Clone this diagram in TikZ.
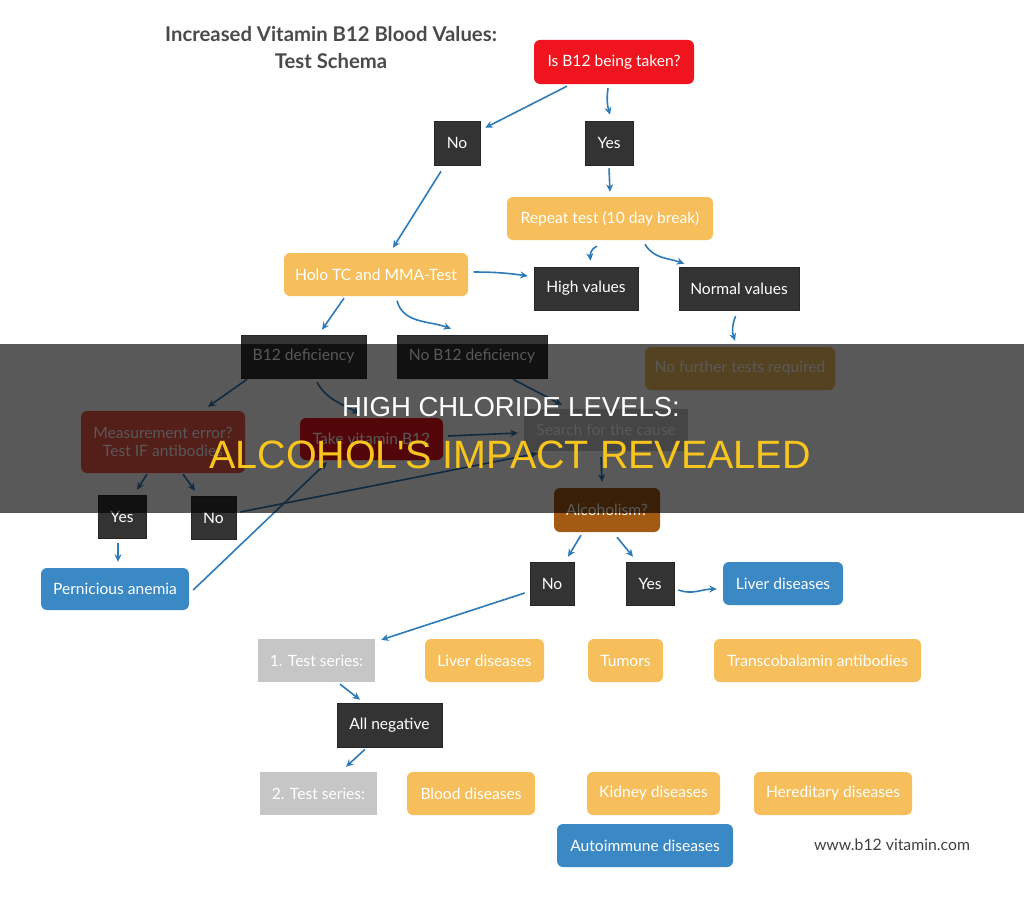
\documentclass[tikz,border=0pt]{standalone}
\usepackage{fontspec}
\setmainfont{Lato}
\newfontfamily\headfont{Liberation Sans}
\usetikzlibrary{arrows.meta}
\definecolor{cyellow}{HTML}{F6BF5C}
\definecolor{cdark}{HTML}{333333}
\definecolor{cblue}{HTML}{3A89C5}
\definecolor{cred}{HTML}{F0141E}
\definecolor{cmeas}{HTML}{F2564A}
\definecolor{cgray}{HTML}{C6C6C6}
\definecolor{calco}{HTML}{A35A12}
\definecolor{carrow}{HTML}{2E7BB8}
\definecolor{ctitle}{HTML}{4A4A4A}
\definecolor{chead}{HTML}{F7C51E}
\begin{document}
\begin{tikzpicture}[x=1pt,y=-1pt,
  box/.style={inner sep=0pt, text=white, font=\fontsize{15.6}{18.5}\selectfont, align=center},
  ybox/.style={box, fill=cyellow, rounded corners=6pt},
  dbox/.style={box, fill=cdark, draw=black!85, line width=0.6pt},
  bbox/.style={box, fill=cblue, rounded corners=6pt},
  rbox/.style={box, fill=cred, rounded corners=6pt},
  gbox/.style={box, fill=cgray},
  arr/.style={draw=carrow, line width=1.6pt, -{Stealth[length=7.5pt,width=7pt]}},
  sz/.style 2 args={minimum width=#1pt, minimum height=#2pt}
]
\fill[white] (0,0) rectangle (1024,899);
\useasboundingbox (0,0) rectangle (1024,899);

% title
\node[font=\bfseries\fontsize{20.3}{27}\selectfont, text=ctitle, align=center] (title) at (331,47.5) {Increased Vitamin B12 Blood Values:\\Test Schema};

% nodes
\node[rbox, sz={160}{44}] (taken) at (614,62) {Is B12 being taken?};
\node[dbox, sz={46}{44}] (no1) at (457,143) {No};
\node[dbox, sz={48}{44}] (yes1) at (609,143) {Yes};
\node[ybox, sz={206}{43}] (repeat) at (610,218.5) {Repeat test (10 day break)};
\node[ybox, sz={184}{43}] (holo) at (376,274.5) {Holo TC and MMA-Test};
\node[dbox, sz={104}{43}] (high) at (586,288.5) {High values};
\node[dbox, sz={120}{43}] (normal) at (739,288.5) {Normal values};
\node[ybox, sz={190}{43}] (nofurther) at (740,368.5) {No further tests required};
\node[dbox, sz={125}{43}] (b12def) at (303.5,356.5) {B12 deficiency};
\node[dbox, sz={150}{43}] (nob12def) at (472,356.5) {No B12 deficiency};
\node[box, fill=cmeas, rounded corners=6pt, sz={164}{62}] (measure) at (163,442) {Measurement error?\\Test IF antibodies};
\node[rbox, sz={143}{42}] (takevit) at (371.5,439) {Take vitamin B12};
\node[gbox, sz={164}{42}] (search) at (606,430) {Search for the cause};
\node[box, fill=calco, rounded corners=6pt, sz={106}{44}] (alco) at (607,510) {Alcoholism?};
\node[dbox, sz={48}{43}] (yes2) at (122,516.5) {Yes};
\node[dbox, sz={45}{43}] (no2) at (213.5,517.5) {No};
\node[bbox, sz={148}{42}] (pernicious) at (115,589) {Pernicious anemia};
\node[dbox, sz={44}{43}] (no3) at (552,583.5) {No};
\node[dbox, sz={48}{43}] (yes3) at (650,583.5) {Yes};
\node[bbox, sz={120}{43}] (liver1) at (783,583.5) {Liver diseases};
\node[gbox, sz={117}{43}] (test1) at (316.5,660.5) {1. Test series:};
\node[ybox, sz={119}{43}] (liver2) at (484.5,660.5) {Liver diseases};
\node[ybox, sz={75}{43}] (tumors) at (625.5,660.5) {Tumors};
\node[ybox, sz={207}{43}] (transco) at (817.5,660.5) {Transcobalamin antibodies};
\node[dbox, sz={105}{44}] (allneg) at (389.5,725) {All negative};
\node[gbox, sz={117}{43}] (test2) at (318.5,793.5) {2. Test series:};
\node[ybox, sz={128}{43}] (blood) at (471,793.5) {Blood diseases};
\node[ybox, sz={133}{43}] (kidney) at (653.5,793.5) {Kidney diseases};
\node[ybox, sz={158}{43}] (hered) at (833,793.5) {Hereditary diseases};
\node[bbox, sz={176}{43}] (autoimm) at (645,845.5) {Autoimmune diseases};
\node[text=black!75, font=\fontsize{15.8}{18}\selectfont] (www) at (892,845) {www.b12 vitamin.com};

% connectors
\draw[arr] ([xshift=-47pt,yshift=-2pt]taken.south) -- ([xshift=5pt,yshift=-7pt]no1.north east);
\draw[arr] ([xshift=-6pt,yshift=-4pt]taken.south) to[bend right=12] ([xshift=1pt,yshift=6pt]yes1.north);
\draw[arr] ([yshift=-3pt]yes1.south) -- ([yshift=5pt]repeat.north);
\draw[arr] ([xshift=-16pt,yshift=-6pt]no1.south) -- ([xshift=17pt,yshift=5pt]holo.north);
\draw[arr] ([xshift=5.5pt,yshift=2.5pt]holo.east) to[bend left=4] ([xshift=-6pt,yshift=12.5pt]high.west);
\draw[arr] ([xshift=-13pt,yshift=-6pt]repeat.south) to[out=200,in=95] ([xshift=4.5pt,yshift=6pt]high.north);
\draw[arr] ([xshift=35pt,yshift=-4pt]repeat.south) to[out=-60,in=160] ([xshift=5.5pt,yshift=3pt]normal.north west);
\draw[arr] ([xshift=-3.5pt,yshift=-6pt]normal.south) to[bend right=20] ([xshift=-5pt,yshift=6pt]nofurther.north);
\draw[arr] ([xshift=-32pt,yshift=-2pt]holo.south) -- ([xshift=18.5pt,yshift=5pt]b12def.north);
\draw[arr] ([xshift=21pt,yshift=-4.5pt]holo.south) to[out=-75,in=160] ([xshift=-21pt,yshift=6pt]nob12def.north);
\draw[arr] ([xshift=-56.5pt,yshift=-1pt]b12def.south) -- ([xshift=45pt,yshift=4pt]measure.north);
\draw[arr] ([xshift=13.5pt,yshift=-4pt]b12def.south) to[out=-60,in=150] ([xshift=-12pt,yshift=4pt]takevit.north);
\draw[arr] ([xshift=41pt,yshift=-1pt]nob12def.south) -- ([xshift=-44pt,yshift=4pt]search.north);
\draw[arr] ([xshift=5pt,yshift=3pt]takevit.east) -- ([xshift=-6pt,yshift=-3pt]search.west);
\draw[arr] ([xshift=-16pt,yshift=-1pt]measure.south) -- ([xshift=15pt,yshift=5pt]yes2.north);
\draw[arr] ([xshift=20pt,yshift=-1pt]measure.south) -- ([xshift=-18.5pt,yshift=5pt]no2.north);
\draw[arr] ([xshift=-4pt,yshift=-5pt]yes2.south) -- ([xshift=3pt,yshift=6pt]pernicious.north);
\draw[arr] ([xshift=4pt,yshift=5.5pt]no2.east) -- ([xshift=14pt,yshift=-2pt]search.south west);
\draw[arr] ([xshift=4pt,yshift=-1pt]pernicious.east) -- ([xshift=-44.5pt,yshift=-2pt]takevit.south);
\draw[arr] ([xshift=-5pt,yshift=-6pt]search.south) -- ([xshift=-5pt,yshift=6pt]alco.north);
\draw[arr] ([xshift=-26pt,yshift=-3pt]alco.south) -- ([xshift=16pt,yshift=5pt]no3.north);
\draw[arr] ([xshift=10pt,yshift=-5pt]alco.south) -- ([xshift=-17pt,yshift=5pt]yes3.north);
\draw[arr] ([xshift=4pt,yshift=-6.5pt]yes3.east) to[out=-20,in=180] ([xshift=-6pt,yshift=-5.5pt]liver1.west);
\draw[arr] ([xshift=-5pt,yshift=-9.5pt]no3.west) -- ([xshift=6pt,yshift=-1pt]test1.north east);
\draw[arr] ([xshift=23.5pt,yshift=-2pt]test1.south) -- ([xshift=-29.5pt,yshift=3pt]allneg.north);
\draw[arr] ([xshift=-24.5pt,yshift=-2pt]allneg.south) -- ([xshift=27.5pt,yshift=5pt]test2.north);

% banner
\fill[black, opacity=0.65] (0,344) rectangle (1024,513);
\node[text=white, font=\headfont\fontsize{27.5}{30}\selectfont] (hl1) at (511,407) {HIGH CHLORIDE LEVELS:};
\node[text=chead, font=\headfont\fontsize{39.5}{42}\selectfont] (hl2) at (510,455) {ALCOHOL'S IMPACT REVEALED};
\end{tikzpicture}
\end{document}
